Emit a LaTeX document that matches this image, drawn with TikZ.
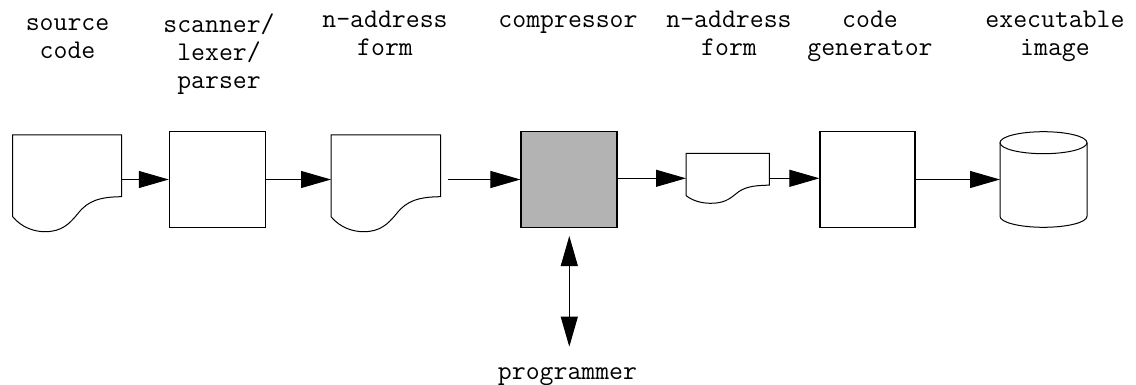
\documentclass[tikz,border=0pt]{standalone}
\usepackage{fontspec}
\usetikzlibrary{arrows.meta,calc}
\definecolor{boxgray}{HTML}{B3B3B3}
\tikzset{
  lbl/.style={font=\ttfamily\fontsize{27}{28}\selectfont, align=center, inner sep=0pt, anchor=base},
  procbox/.style={draw, line width=1.1pt, minimum width=96pt, minimum height=95.6pt, inner sep=0pt},
  ghost/.style={inner sep=0pt, outer sep=0pt},
  flow/.style={line width=1pt, -{Triangle[length=30pt,width=17pt]}},
  twoway/.style={line width=1pt, {Triangle[length=30pt,width=17pt]}-{Triangle[length=30pt,width=17pt]}},
  docshape/.style={draw, line width=1pt, line join=miter}
}
\begin{document}
\begin{tikzpicture}[x=1pt,y=-1pt]
\useasboundingbox (0,0) rectangle (1136,385);

% documents (invisible nodes for geometry)
\node[ghost, minimum width=109pt, minimum height=96.7pt] (d1) at (67.2,183.35) {};
\node[ghost, minimum width=109.7pt, minimum height=96.7pt] (d2) at (385.85,183.35) {};
\node[ghost, minimum width=83.3pt, minimum height=50pt] (d3) at (727.65,178.3) {};

\foreach \d/\w/\h in {d1/109/96.7, d2/109.7/96.7, d3/83.3/50}{
  \begin{scope}[shift={(\d.north west)}, x=\w pt, y=-\h pt]
    \draw[docshape] (0,0) -- (1,0) -- (1,0.638)
      .. controls (0.8,0.64) and (0.69,0.68) .. (0.6,0.81)
      .. controls (0.52,0.92) and (0.45,1.0) .. (0.297,1.0)
      .. controls (0.2,1.0) and (0.085,0.96) .. (0,0.845) -- cycle;
  \end{scope}
}

% process boxes
\node[procbox] (scan) at (217.35,179.5) {};
\node[procbox, fill=boxgray] (comp) at (569,179.5) {};
\node[procbox, minimum width=95pt] (gen) at (867.5,179.5) {};

% cylinder
\node[ghost, minimum width=87pt, minimum height=95.6pt] (cyl) at (1043.5,179.5) {};
\draw[line width=1pt] ($(cyl.north west)+(0,11)$) -- ($(cyl.south west)+(0,-11)$)
  arc[start angle=180, end angle=360, x radius=43.5pt, y radius=11pt]
  -- ($(cyl.north east)+(0,11)$);
\draw[line width=1pt] ($(cyl.north)+(0,11)$) ellipse[x radius=43.5pt, y radius=11pt];

% connectors
\draw[flow] (d1.east |- scan.west) -- (scan.west);
\draw[flow] (scan.east) -- (d2.west |- scan.west);
\draw[flow] ([xshift=7pt]d2.east |- comp.west) -- (comp.west);
\draw[flow] (comp.east |- d3.west) -- (d3.west);
\draw[flow] (d3.east) -- (gen.west |- d3.east);
\draw[flow] (gen.east) -- (cyl.west);

\coordinate (ptop) at (569.3,236);
\coordinate (pbot) at (569.3,346.7);
\draw[twoway] (ptop) -- (pbot);

% labels (anchor=base is the baseline of the last line)
\node[lbl] (l1) at (67.5,59) {source\\code};
\node[lbl] (l2) at (219,89) {scanner/\\lexer/\\parser};
\node[lbl] (l3) at (385,56) {n-address\\form};
\node[lbl] (l4) at (568,27.5) {compressor};
\node[lbl] (l5) at (729,55.5) {n-address\\form};
\node[lbl] (l6) at (870,55.5) {code\\generator};
\node[lbl] (l7) at (1055,55.5) {executable\\image};
\node[lbl] (l8) at (567.5,379) {programmer};
\end{tikzpicture}
\end{document}
